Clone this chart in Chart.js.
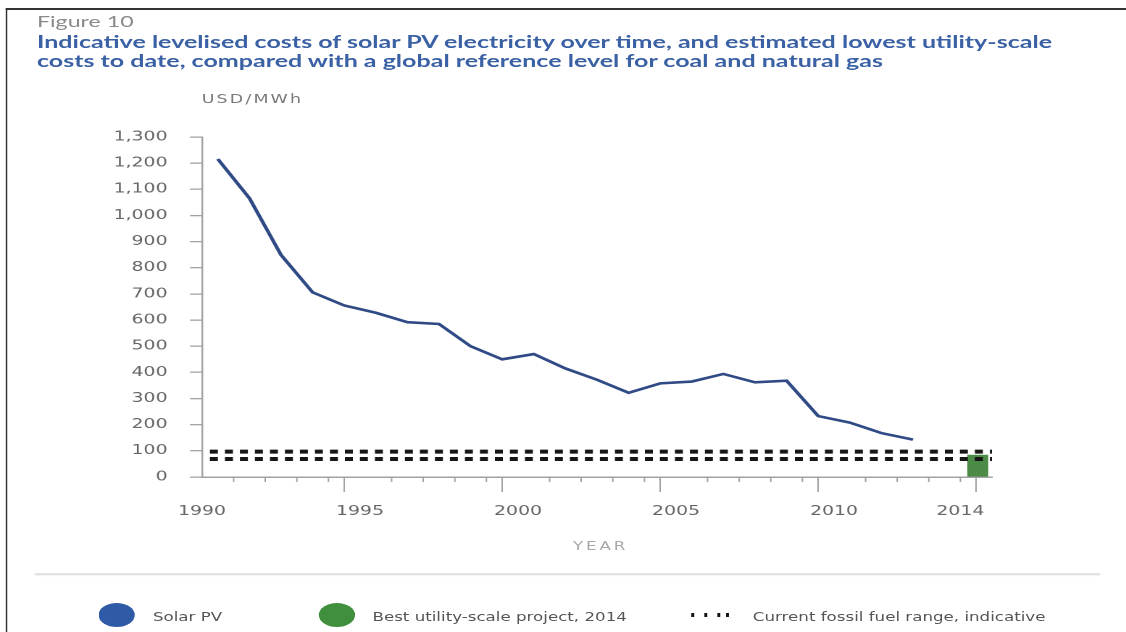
<!DOCTYPE html>
<html>
<head>
<meta charset="utf-8">
<script src="https://cdn.jsdelivr.net/npm/chart.js@4.4.1/dist/chart.umd.min.js"></script>
<style>
  html, body { margin: 0; padding: 0; background: #fff; overflow: hidden; }
  /* the figure is laid out at 777px and widened to the full 1126px frame */
  #page { position: absolute; left: 0; top: 0; width: 777px; height: 632px;
          transform: scaleX(1.4492); transform-origin: 0 0; }
  .abs { position: absolute; white-space: nowrap; }
  #frameTop  { left: 4.3px; top: 8.2px; width: 773px; height: 1.5px; background: #333; }
  #frameLeft { left: 4.3px; top: 8.2px; width: 1px; height: 624px; background: #333; }
  #fig   { left: 25.5px; top: 11px; font: 16px/20px Lato, sans-serif; color: #8a8a8a; }
  #title { left: 25.5px; top: 33px; font: bold 17.3px/18.5px Lato, sans-serif; color: #3b61a5; }
  #unit  { left: 139.2px; top: 92px; font: 12px/14px 'DejaVu Sans', sans-serif; letter-spacing: 1.5px; color: #7a7a7a; }
  #xcap  { left: 312.4px; width: 200px; text-align: center; top: 539px; padding-left: 2px;
           font: 11.5px/14px 'DejaVu Sans', sans-serif; letter-spacing: 2px; color: #a8a8a8; }
  #rule  { left: 24px; top: 573px; width: 735px; height: 2px; background: #e2e2e2;
           box-shadow: 0 1px 1px rgba(0,0,0,0.06); }
  #chartBox { position: absolute; left: 0; top: 0; width: 777px; height: 632px; }
  .swatch { position: absolute; width: 25px; height: 24px; border-radius: 50%; top: 603px; }
  .ltext { position: absolute; top: 610px; font: 11.5px/14px 'DejaVu Sans', sans-serif; color: #555; white-space: nowrap; }
  .dot { position: absolute; top: 613px; width: 2.8px; height: 4px; background: #111; }
</style>
</head>
<body>
<div id="page">
  <div id="frameTop" class="abs"></div>
  <div id="frameLeft" class="abs"></div>
  <div id="fig" class="abs">Figure 10</div>
  <div id="title" class="abs">Indicative levelised costs of solar PV electricity over time, and estimated lowest utility-scale<br>costs to date, compared with a global reference level for coal and natural gas</div>
  <div id="unit" class="abs">USD/MWh</div>
  <div id="chartBox"><canvas id="chart"></canvas></div>
  <div id="xcap" class="abs">YEAR</div>
  <div id="rule" class="abs"></div>

  <div class="swatch" style="left:67.5px;background:#2f5ba6"></div>
  <div class="ltext" style="left:105.5px">Solar PV</div>
  <div class="swatch" style="left:220px;background:#3f8f3f"></div>
  <div class="ltext" style="left:257px">Best utility-scale project, 2014</div>
  <div class="dot" style="left:476.5px"></div>
  <div class="dot" style="left:485.5px"></div>
  <div class="dot" style="left:494.5px"></div>
  <div class="dot" style="left:500.5px"></div>
  <div class="ltext" style="left:519.5px">Current fossil fuel range, indicative</div>
</div>

<script>
// Solar PV levelised cost, USD/MWh, one value per year
const years = [1990, 1991, 1992, 1993, 1994, 1995, 1996, 1997, 1998, 1999, 2000, 2001,
               2002, 2003, 2004, 2005, 2006, 2007, 2008, 2009, 2010, 2011, 2012];
const solarPV = [1216, 1066, 849, 706, 656, 628, 592, 585, 500, 450, 470, 415,
                 372, 322, 358, 365, 394, 362, 368, 233, 208, 168, 143];

// Best utility-scale project, 2014
const bestProjectYear = 2014;
const bestProjectCost = 84;

// Indicative fossil fuel range (low, high), drawn across the whole period
const fossilRange = [69, 97];
const fossilSpan = [1990.25, 2015];

// Axis ticks
const yTickValues = [0, 100, 200, 300, 400, 500, 600, 700, 800, 900, 1000, 1100, 1200, 1300];
const xTickYears = [1990, 1991, 1992, 1993, 1994, 1995, 1996, 1997, 1998, 1999, 2000, 2001, 2002,
                    2003, 2004, 2005, 2006, 2007, 2008, 2009, 2010, 2011, 2012, 2013, 2014, 2015];
const xMajorYears = [1990, 1995, 2000, 2005, 2010, 2015];
const xLabelYears = [1990, 1995, 2000, 2005, 2010, 2014];

const AXIS_GREY = '#a2a2a2';

// short year ticks between the long five-year ticks
const minorTicks = {
  id: 'minorTicks',
  afterDraw(chart) {
    const x = chart.scales.x;
    const ctx = chart.ctx;
    const bottom = chart.chartArea.bottom;
    ctx.save();
    ctx.strokeStyle = AXIS_GREY;
    ctx.lineWidth = 1;
    for (const yr of xTickYears) {
      if (xMajorYears.includes(yr)) continue;
      const px = x.getPixelForValue(yr);
      ctx.beginPath();
      ctx.moveTo(px, bottom);
      ctx.lineTo(px, bottom + 5);
      ctx.stroke();
    }
    ctx.restore();
  }
};

const fossilLine = (value) => ({
  type: 'line',
  data: fossilSpan.map(x => ({ x, y: value })),
  borderColor: '#161616',
  borderWidth: 4,
  borderDash: [5.5, 4.85],
  borderCapStyle: 'butt',
  pointRadius: 0,
  clip: false,
  order: 0
});

new Chart(document.getElementById('chart'), {
  type: 'line',
  data: {
    datasets: [
      {
        type: 'line',
        label: 'Solar PV',
        data: years.map((yr, i) => ({ x: yr + 0.5, y: solarPV[i] })),
        borderColor: '#2f4a85',
        borderWidth: 2.6,
        pointRadius: 0,
        tension: 0,
        order: 1
      },
      {
        type: 'bar',
        label: 'Best utility-scale project, 2014',
        data: [{ x: bestProjectYear + 0.55, y: bestProjectCost }],
        backgroundColor: '#4b8b45',
        barThickness: 13.8,
        order: 2
      },
      fossilLine(fossilRange[1]),
      fossilLine(fossilRange[0])
    ]
  },
  options: {
    responsive: true,
    maintainAspectRatio: false,
    devicePixelRatio: 2,
    animation: false,
    events: [],
    layout: { padding: { left: 0, right: 92.5, top: 137, bottom: 105 } },
    plugins: { legend: { display: false }, tooltip: { enabled: false }, title: { display: false } },
    scales: {
      x: {
        type: 'linear',
        min: 1990,
        max: 2015,
        offset: false,
        afterBuildTicks: s => { s.ticks = xTickYears.map(v => ({ value: v })); },
        afterFit: s => { s.height = 50; },
        border: { display: true, color: AXIS_GREY, width: 1.5 },
        grid: {
          drawOnChartArea: false,
          drawTicks: true,
          tickLength: 15,
          lineWidth: 1,
          tickColor: c => (xMajorYears.includes(c.tick && c.tick.value) ? AXIS_GREY : 'rgba(0,0,0,0)')
        },
        ticks: {
          autoSkip: false,
          maxRotation: 0,
          padding: 12,
          color: '#666',
          font: { family: 'DejaVu Sans', size: 13 },
          callback: v => (xLabelYears.includes(v) ? String(v) : '')
        }
      },
      y: {
        min: 0,
        max: 1300,
        afterBuildTicks: s => { s.ticks = yTickValues.map(v => ({ value: v })); },
        afterFit: s => { s.width = 139.4; },
        border: { display: true, color: AXIS_GREY, width: 1.2 },
        grid: {
          drawOnChartArea: false,
          drawTicks: true,
          tickLength: 8.3,
          lineWidth: 1.3,
          color: AXIS_GREY
        },
        ticks: {
          padding: 15.5,
          color: '#666',
          font: { family: 'DejaVu Sans', size: 13 },
          callback: v => v.toLocaleString('en-US')
        }
      }
    }
  },
  plugins: [minorTicks]
});
</script>
</body>
</html>
